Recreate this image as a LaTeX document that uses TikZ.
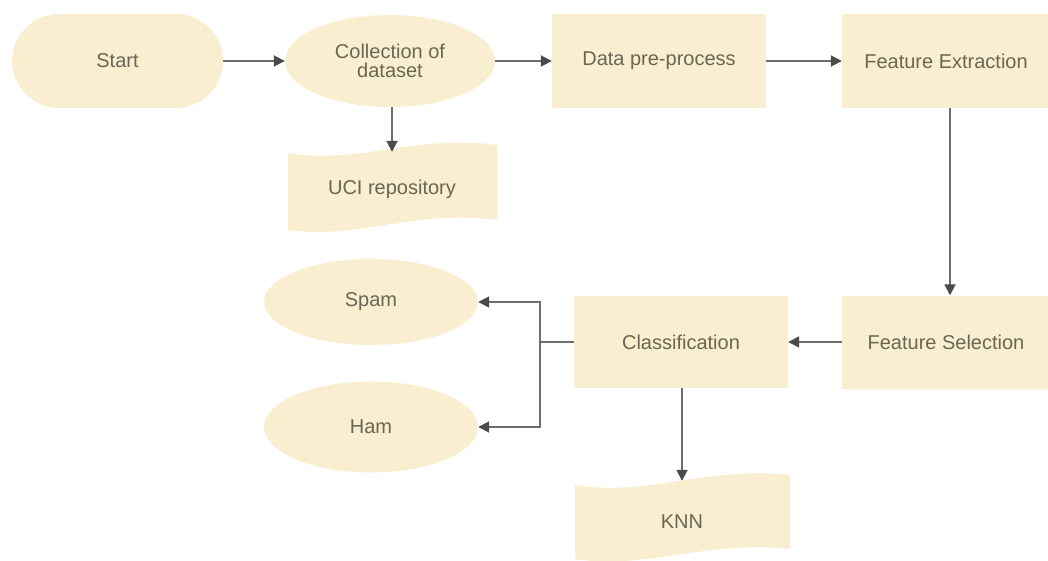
\documentclass[tikz,border=0pt]{standalone}
\usepackage{fontspec}
\setmainfont{Liberation Sans}
\usetikzlibrary{arrows.meta,shapes.geometric}
\definecolor{cream}{HTML}{F9EFD0}
\definecolor{txt}{HTML}{6A6654}
\definecolor{lin}{HTML}{6E6E6E}
\definecolor{tip}{HTML}{4A4A4A}
\begin{document}
\begin{tikzpicture}[x=1pt,y=-1pt,
  every node/.style={font=\fontsize{20}{19}\selectfont, text=txt, align=center},
  boxnode/.style={rectangle, fill=cream, inner sep=0pt},
  termnode/.style={rectangle, rounded corners=47pt, fill=cream, inner sep=0pt},
  ellnode/.style={ellipse, fill=cream, inner sep=0pt},
  tapetext/.style={rectangle, inner sep=0pt},
  tapefill/.style={fill=cream, draw=none},
  arr/.style={draw=lin, line width=1.8pt, -{Triangle[length=11pt,width=11pt,fill=tip,color=tip]}},
  lnk/.style={draw=lin, line width=1.8pt}]
\useasboundingbox (0,0) rectangle (1048,561);

% tape shapes
\path[tapefill] (288,153) .. controls (358,165) and (414,134) .. (497,145)
  -- (497,220) .. controls (414,209) and (358,240) .. (288,230) -- cycle;
\path[tapefill] (575,485) .. controls (647,497) and (705,466) .. (790,475)
  -- (790,549) .. controls (705,540) and (647,570) .. (575,559) -- cycle;

\node[termnode, minimum width=211pt, minimum height=94pt] (start) at (117.5,61) {Start};
\node[ellnode, minimum width=210pt, minimum height=92pt] (coll) at (390,61) {Collection of\\dataset};
\node[boxnode, minimum width=214pt, minimum height=94pt] (data) at (659,61) {Data pre-process};
\node[boxnode, minimum width=208pt, minimum height=94pt] (fe) at (946,61) {Feature Extraction};
\node[tapetext, minimum width=200pt, minimum height=74pt] (uci) at (392,189) {UCI repository};
\node[boxnode, minimum width=208pt, minimum height=93pt] (fs) at (946,342) {Feature Selection};
\node[boxnode, minimum width=214pt, minimum height=92pt] (cls) at (681,342) {Classification};
\node[tapetext, minimum width=200pt, minimum height=82pt] (knn) at (682,522) {KNN};
\node[ellnode, minimum width=214pt, minimum height=86pt] (spam) at (371,302) {Spam};
\node[ellnode, minimum width=214pt, minimum height=91pt] (ham) at (371,427) {Ham};
\coordinate (br) at (540,342);

\draw[arr] (start) -- (coll);
\draw[arr] (coll) -- (data);
\draw[arr] (data) -- (fe);
\draw[arr] (coll.south -| uci.north) -- (uci.north);
\draw[arr] (fe.south -| 950,0) -- (fs.north -| 950,0);
\draw[arr] (fs) -- (cls);
\draw[arr] (cls.south -| knn.north) -- (knn.north);
\draw[lnk] (cls.west) -- (br);
\draw[arr] (br) |- (spam.east);
\draw[arr] (br) |- (ham.east);
\end{tikzpicture}
\end{document}
